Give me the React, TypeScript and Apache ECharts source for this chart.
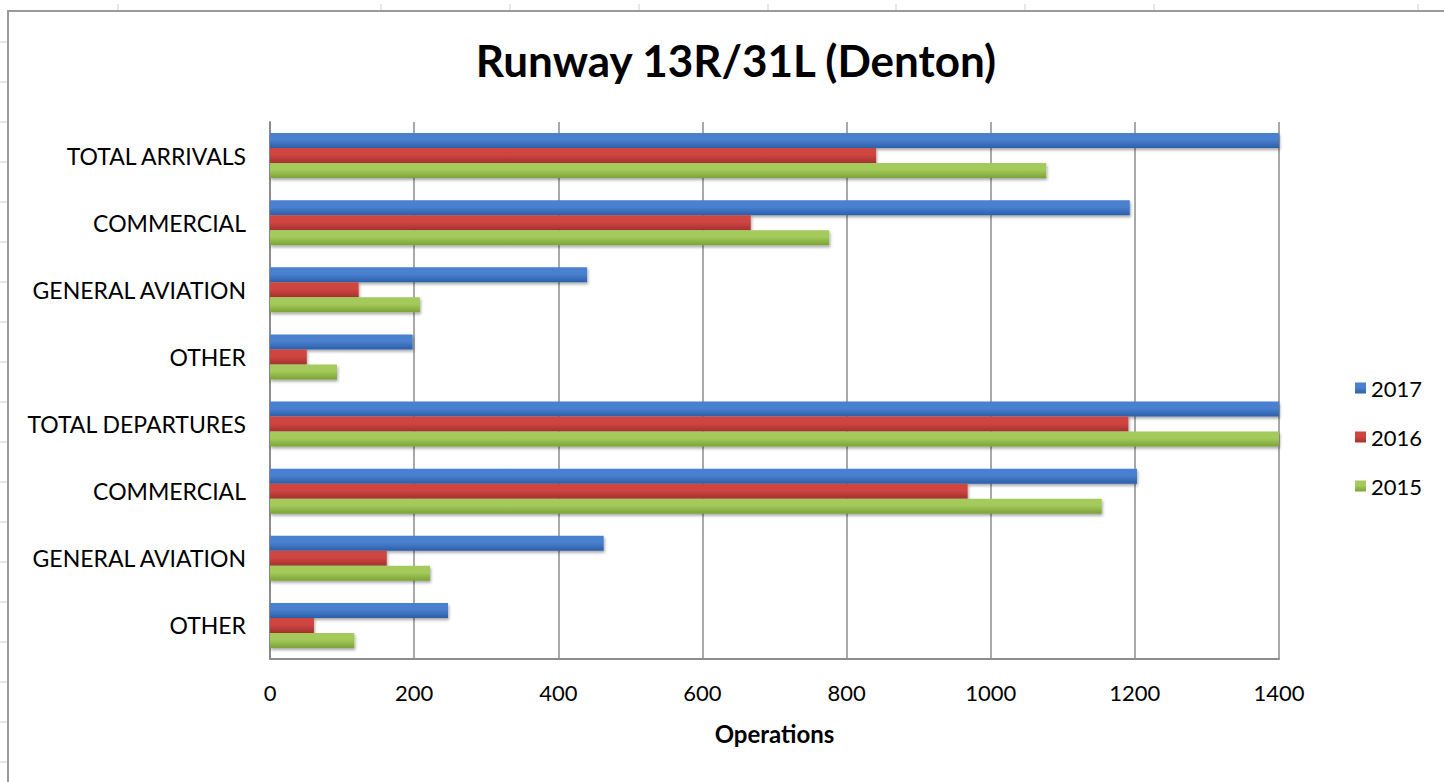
import React, { useEffect, useRef } from "react";
import * as echarts from "echarts";

const categories = [
  "TOTAL ARRIVALS",
  "COMMERCIAL",
  "GENERAL AVIATION",
  "OTHER",
  "TOTAL DEPARTURES",
  "COMMERCIAL ",
  "GENERAL AVIATION ",
  "OTHER ",
];
const values2017 = [1831, 1193, 440, 198, 1913, 1203, 463, 247];
const values2016 = [841, 667, 123, 51, 1191, 968, 162, 61];
const values2015 = [1077, 776, 208, 93, 1493, 1154, 222, 117];
const xTicks = [0, 200, 400, 600, 800, 1000, 1200, 1400];
const FONT = "Lato, 'Open Sans', sans-serif";

function grad(top: string, bottom: string) {
  return new echarts.graphic.LinearGradient(0, 0, 0, 1, [
    { offset: 0, color: top },
    { offset: 0.45, color: top },
    { offset: 1, color: bottom },
  ]);
}

export default function App() {
  const ref = useRef<HTMLDivElement>(null);
  useEffect(() => {
    if (!ref.current) return;
    const chart = echarts.init(ref.current, undefined, { renderer: "svg" });
    const shadow = {
      shadowBlur: 3,
      shadowColor: "rgba(0,0,0,0.35)",
      shadowOffsetX: 1,
      shadowOffsetY: 2,
    };
    const stubs: any[] = [];
    const topXs = [118, 381, 510, 639, 768, 896, 1025, 1154, 1418];
    topXs.forEach((x) =>
      stubs.push({
        type: "line",
        shape: { x1: x, y1: 4, x2: x, y2: 11 },
        style: { stroke: "#d0d0d0", lineWidth: 1 },
        silent: true,
      })
    );
    for (let y = 42; y < 782; y += 40) {
      stubs.push({
        type: "line",
        shape: { x1: 0, y1: y, x2: 8, y2: y },
        style: { stroke: "#d0d0d0", lineWidth: 1 },
        silent: true,
      });
    }
    const series = [
      { name: "2017", data: values2017, color: grad("#4a80cf", "#2c5fa8") },
      { name: "2016", data: values2016, color: grad("#cf4541", "#a5312e") },
      { name: "2015", data: values2015, color: grad("#a3ca5a", "#7ca238") },
    ].map((s) => ({
      name: s.name,
      type: "bar",
      data: s.data,
      barWidth: 15,
      barGap: "0%",
      clip: true,
      itemStyle: { color: s.color, ...shadow },
    }));
    chart.setOption({
      animation: false,
      backgroundColor: "#ffffff",
      title: {
        text: "Runway 13R/31L (Denton)",
        left: 731,
        textAlign: "center",
        top: 33,
        textStyle: {
          fontFamily: FONT,
          fontSize: 44,
          fontWeight: "bold",
          color: "#000",
        },
      },
      legend: {
        orient: "vertical",
        left: 1350,
        top: 372,
        itemWidth: 11,
        itemHeight: 11,
        itemGap: 27,
        icon: "rect",
        data: ["2017", "2016", "2015"],
        textStyle: { fontFamily: FONT, fontSize: 22, color: "#000" },
      },
      grid: { left: 270, right: 165, top: 122, bottom: 123, containLabel: false },
      xAxis: {
        type: "value",
        min: 0,
        max: 1400,
        interval: 200,
        name: "Operations",
        nameLocation: "middle",
        nameGap: 62,
        nameTextStyle: {
          fontFamily: FONT,
          fontSize: 24,
          fontWeight: "bold",
          color: "#000",
        },
        axisLine: { show: true, lineStyle: { color: "#8c8c8c", width: 2 } },
        axisTick: { show: false },
        axisLabel: {
          fontFamily: FONT,
          fontSize: 22,
          color: "#000",
          margin: 22,
          formatter: (v: number) => (xTicks.includes(v) ? String(v) : ""),
        },
        splitLine: { show: true, lineStyle: { color: "#8c8c8c", width: 1.5 } },
      },
      yAxis: {
        type: "category",
        data: categories,
        inverse: true,
        axisLine: { show: true, lineStyle: { color: "#8c8c8c", width: 2 } },
        axisTick: { show: false },
        axisLabel: {
          fontFamily: FONT,
          fontSize: 23,
          color: "#000",
          margin: 24,
          formatter: (v: string) => v.trim(),
        },
        splitLine: { show: false },
      },
      graphic: [
        ...stubs,
        {
          type: "rect",
          shape: { x: 8, y: 11, width: 1460, height: 800 },
          style: { fill: "none", stroke: "#9a9a9a", lineWidth: 2 },
          silent: true,
          z: 100,
        },
      ],
      series,
    });
    return () => chart.dispose();
  }, []);
  return (
    <div
      ref={ref}
      style={{ position: "fixed", left: 0, top: 0, width: 1444, height: 782 }}
    />
  );
}
